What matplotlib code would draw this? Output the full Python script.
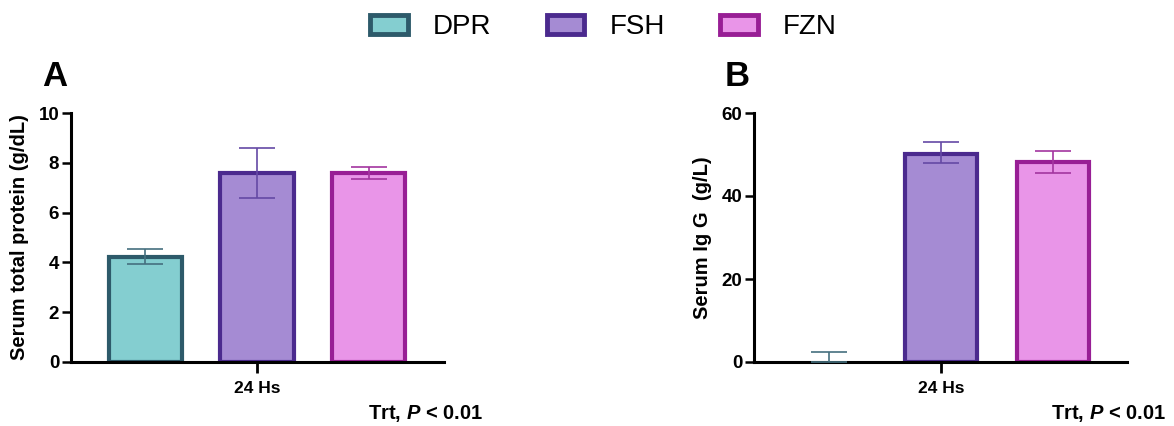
import matplotlib
matplotlib.use("Agg")
import matplotlib.pyplot as plt
from matplotlib.patches import Patch
import numpy as np

plt.rcParams['font.family'] = ['Liberation Sans', 'DejaVu Sans']
plt.rcParams['mathtext.fontset'] = 'custom'
plt.rcParams['mathtext.rm'] = 'Liberation Sans:bold'
plt.rcParams['mathtext.bfit'] = 'Liberation Sans:italic:bold'
plt.rcParams['mathtext.it'] = 'Liberation Sans:italic:bold'

groups = ["DPR", "FSH", "FZN"]
category = "24 Hs"

protein_mean = [4.2, 7.6, 7.6]
protein_low = [3.95, 6.6, 7.35]
protein_high = [4.55, 8.6, 7.85]

igg_mean = [0.0, 50.1, 48.1]
igg_low = [0.0, 47.9, 45.6]
igg_high = [2.5, 53.1, 50.9]

fill_colors = ["#84CED0", "#A58BD3", "#E995E8"]
edge_colors = ["#2D5A6A", "#4B2A8E", "#981E95"]
err_colors = ["#45707F", "#6549A5", "#A3359F"]

fig = plt.figure(figsize=(11.74, 4.26), dpi=100)

def panel(rect, means, lows, highs, ylim, yticks, ylabel, xlim, width, letter):
    ax = fig.add_axes(rect)
    x = np.arange(len(groups))
    for i in range(len(groups)):
        lw = 3 if means[i] != 0 else 0
        ax.bar(x[i], means[i], width=width, color=fill_colors[i], edgecolor=edge_colors[i],
               linewidth=lw, zorder=2)
        ax.errorbar(x[i], means[i], yerr=[[means[i] - lows[i]], [highs[i] - means[i]]],
                    fmt='none', ecolor=err_colors[i], elinewidth=1.2, capsize=13,
                    capthick=1.2, zorder=3)
    ax.set_xlim(*xlim)
    ax.set_ylim(*ylim)
    ax.set_yticks(yticks)
    ax.set_xticks([1])
    ax.set_xticklabels([category])
    for s in ['top', 'right']:
        ax.spines[s].set_visible(False)
    for s in ['left', 'bottom']:
        ax.spines[s].set_linewidth(2.2)
    ax.tick_params(axis='y', length=6.5, width=1.8, labelsize=13.5, pad=2)
    ax.tick_params(axis='x', length=8, width=2.0, labelsize=12.5, pad=6)
    for lbl in ax.get_yticklabels() + ax.get_xticklabels():
        lbl.set_fontweight('bold')
    ax.set_ylabel(ylabel, fontsize=14.5, fontweight='bold')
    ax.yaxis.set_label_coords(-0.113, 0.5)
    ax.text(-0.078, 1.08, letter, transform=ax.transAxes, fontsize=25,
            fontweight='bold', ha='left', va='bottom')
    ax.text(1.105, -0.205, r"Trt, $\mathbfit{P}$ < 0.01", transform=ax.transAxes,
            fontsize=14.5, fontweight='bold', ha='right', va='center')
    return ax

axA = panel([71/1174, 64/426, 373/1174, 249/426], protein_mean, protein_low, protein_high,
            (0, 10), [0, 2, 4, 6, 8, 10], "Serum total protein (g/dL)",
            (-0.668, 2.677), 0.655, "A")
axB = panel([754/1174, 64/426, 373/1174, 249/426], igg_mean, igg_low, igg_high,
            (0, 60), [0, 20, 40, 60], "Serum Ig G  (g/L)",
            (-0.67, 2.66), 0.643, "B")

handles = [Patch(facecolor=fill_colors[i], edgecolor=edge_colors[i], linewidth=3.5)
           for i in range(len(groups))]
fig.legend(handles, groups, loc='upper center', bbox_to_anchor=(0.514, 1.025), ncol=3,
           frameon=False, fontsize=20, handlelength=1.35, handleheight=0.7,
           handletextpad=0.9, columnspacing=2.0)

fig.savefig("out.png", dpi=100)
